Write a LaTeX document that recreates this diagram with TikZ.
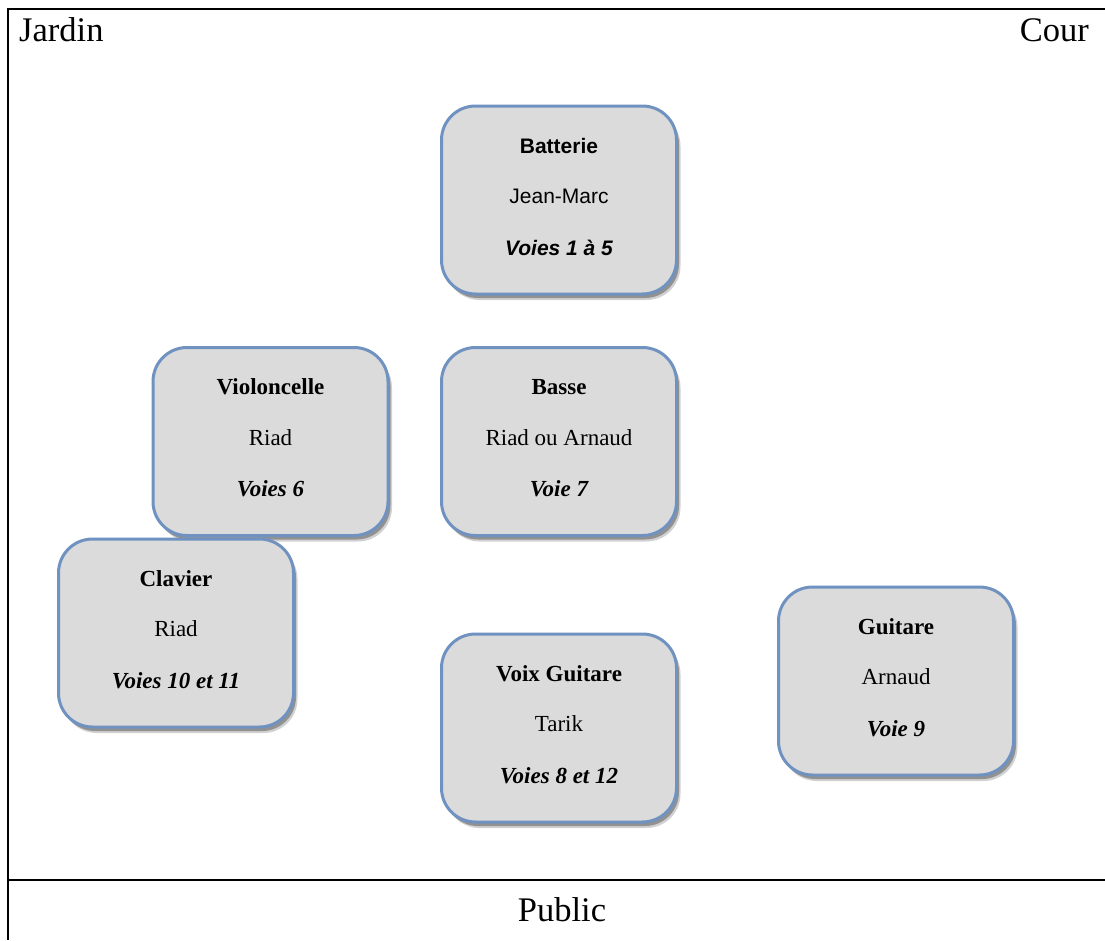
\documentclass[tikz,border=0pt]{standalone}
\usepackage{fontspec}
\setmainfont{Liberation Serif}
\newfontfamily\arialf{Liberation Sans}
\usetikzlibrary{shadows}
\definecolor{boxblue}{RGB}{112,146,193}
\definecolor{boxgray}{RGB}{219,219,219}
\tikzset{
  pupitrebox/.style={draw=boxblue, line width=3pt, fill=boxgray,
    rounded corners=34pt, minimum width=235pt, minimum height=188pt, inner sep=0pt,
    drop shadow={opacity=0.18, shadow xshift=4pt, shadow yshift=-6pt, fill=black},
    drop shadow={opacity=0.3, shadow xshift=2.5pt, shadow yshift=-4pt, fill=black}},
  labeltext/.style={anchor=base, inner sep=0pt},
  frameline/.style={line width=2.2pt, black},
  sidelabel/.style={inner sep=0pt, font=\fontsize{34.5}{40}\selectfont}
}
\newcommand\serifpup{\rmfamily\fontsize{23}{27}\selectfont}
\newcommand\sanspup{\arialf\fontsize{21}{25}\selectfont}
\newcommand\pupitre[7]{%
  \node[pupitrebox] (#1) at (#2,#3) {};
  \node[labeltext] (#1-t) at ([yshift=47pt]#1.center) {#4\bfseries #5};
  \node[labeltext] (#1-n) at ([yshift=-3.5pt]#1.center) {#4#6};
  \node[labeltext] (#1-v) at ([yshift=-55pt]#1.center) {#4\bfseries\itshape #7};
}
\begin{document}
\begin{tikzpicture}[x=1pt,y=-1pt]
  \fill[white] (0,0) rectangle (1105,940);
  \useasboundingbox (0,0) rectangle (1105,940);
  \draw[frameline] (8,940) -- (8,9) -- (1105,9);
  \draw[frameline] (8,880) -- (1105,880);
  \node[sidelabel, anchor=base west] (jardin) at (19,41) {Jardin};
  \node[sidelabel, anchor=base east] (cour) at (1089,41) {Cour};
  \node[sidelabel, anchor=base] (public) at (562,921) {Public};

  \pupitre{bat}{559}{200}{\sanspup}{Batterie}{Jean-Marc}{Voies 1 à 5}
  \pupitre{vio}{270.5}{441.5}{\serifpup}{Violoncelle}{Riad}{Voies 6}
  \pupitre{bas}{559}{441.5}{\serifpup}{Basse}{Riad ou Arnaud}{Voie 7}
  \pupitre{cla}{176}{633}{\serifpup}{Clavier}{Riad}{Voies 10 et 11}
  \pupitre{voi}{559}{728}{\serifpup}{Voix Guitare}{Tarik}{Voies 8 et 12}
  \pupitre{gui}{896}{681}{\serifpup}{Guitare}{Arnaud}{Voie 9}
\end{tikzpicture}
\end{document}
